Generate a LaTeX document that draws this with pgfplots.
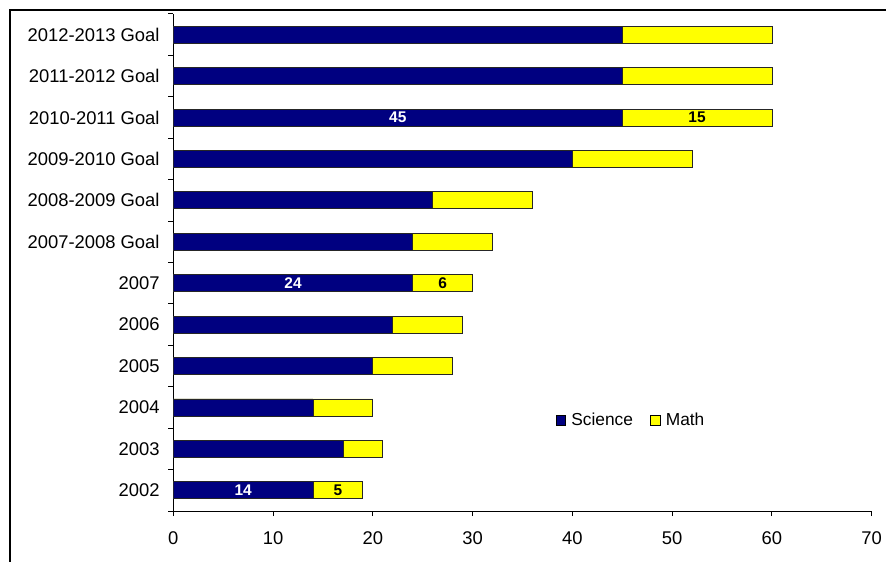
\documentclass[border=0pt]{standalone}
\usepackage{fontspec}
\setmainfont{Liberation Sans}
\usepackage{pgfplots}
\usepackage{pgfplotstable}
\pgfplotsset{compat=1.18}

\definecolor{sciblue}{RGB}{0,0,128}
\definecolor{mathyellow}{RGB}{255,255,0}

% pos: row on the y axis, sci/math: counts, lab: 1 where values are printed
\pgfplotstableread{
pos sci math lab
0   14  5    1
1   17  4    0
2   14  6    0
3   20  8    0
4   22  7    0
5   24  6    1
6   24  8    0
7   26  10   0
8   40  12   0
9   45  15   1
10  45  15   0
11  45  15   0
}\goals

\begin{document}
\begin{tikzpicture}
\useasboundingbox (-129.975pt,-37.5pt) rectangle (534.525pt,383.25pt);
\begin{axis}[
  at={(0pt,0pt)}, anchor=south west,
  scale only axis,
  width=523.8pt, height=372.75pt,
  xmin=0, xmax=70, ymin=-0.5, ymax=11.5,
  axis lines*=left,
  axis line style={black, line width=0.75pt},
  /pgf/number format/assume math mode=true,
  xtick={0,10,...,70},
  ytick={0,...,11},
  yticklabels={2002,2003,2004,2005,2006,2007,
    2007-2008 Goal,2008-2009 Goal,2009-2010 Goal,
    2010-2011 Goal,2011-2012 Goal,2012-2013 Goal},
  minor ytick={-0.5,0.5,...,11.5},
  major y tick style={draw=none},
  minor y tick style={black, line width=0.75pt},
  x tick style={black, line width=0.75pt},
  tick align=outside,
  major tick length=3.75pt,
  minor tick length=3.75pt,
  tick label style={font=\fontsize{13.8}{16}\selectfont, black},
  xticklabel style={yshift=-8.5pt},
  yticklabel style={xshift=-3pt},
  legend style={at={(0.656,0.182)}, anchor=center, draw=none, fill=none,
    font=\fontsize{13}{15}\selectfont,
    legend columns=2,
    /tikz/every odd column/.append style={column sep=2pt},
    /tikz/every even column/.append style={column sep=11pt}},
  legend image code/.code={%
    \draw[#1, draw=black, line width=0.6pt] (0pt,-3.5pt) rectangle (7pt,3.5pt);},
  every node near coord/.append style={anchor=center,
    font=\fontsize{11.6}{13}\selectfont\bfseries},
]
% math segment: full bar from 0 to sci+math, science drawn over it
\addplot[xbar, bar shift=0pt, bar width=12.75pt, fill=mathyellow,
  draw=black!85, line width=0.6pt, forget plot]
  table[x expr=\thisrow{sci}+\thisrow{math}, y=pos] {\goals};
\addplot[xbar, bar shift=0pt, bar width=12.75pt, fill=sciblue,
  draw=black!85, line width=0.6pt, forget plot]
  table[x=sci, y=pos] {\goals};

% printed values, centred in their segments
\addplot[draw=none, mark=none, forget plot, nodes near coords,
  point meta=explicit, every node near coord/.append style={text=white},
  restrict expr to domain={\thisrow{lab}}{0.5:1.5}]
  table[x expr=\thisrow{sci}/2, y=pos, meta=sci] {\goals};
\addplot[draw=none, mark=none, forget plot, nodes near coords,
  point meta=explicit, every node near coord/.append style={text=black},
  restrict expr to domain={\thisrow{lab}}{0.5:1.5}]
  table[x expr=\thisrow{sci}+\thisrow{math}/2, y=pos, meta=math] {\goals};

\addlegendimage{fill=sciblue}
\addlegendentry{Science}
\addlegendimage{fill=mathyellow}
\addlegendentry{Math}
\end{axis}
% chart frame
\draw[black, line width=1.1pt] (-122.475pt,-45pt) -- (-122.475pt,375.75pt) -- (545pt,375.75pt);
\end{tikzpicture}
\end{document}
